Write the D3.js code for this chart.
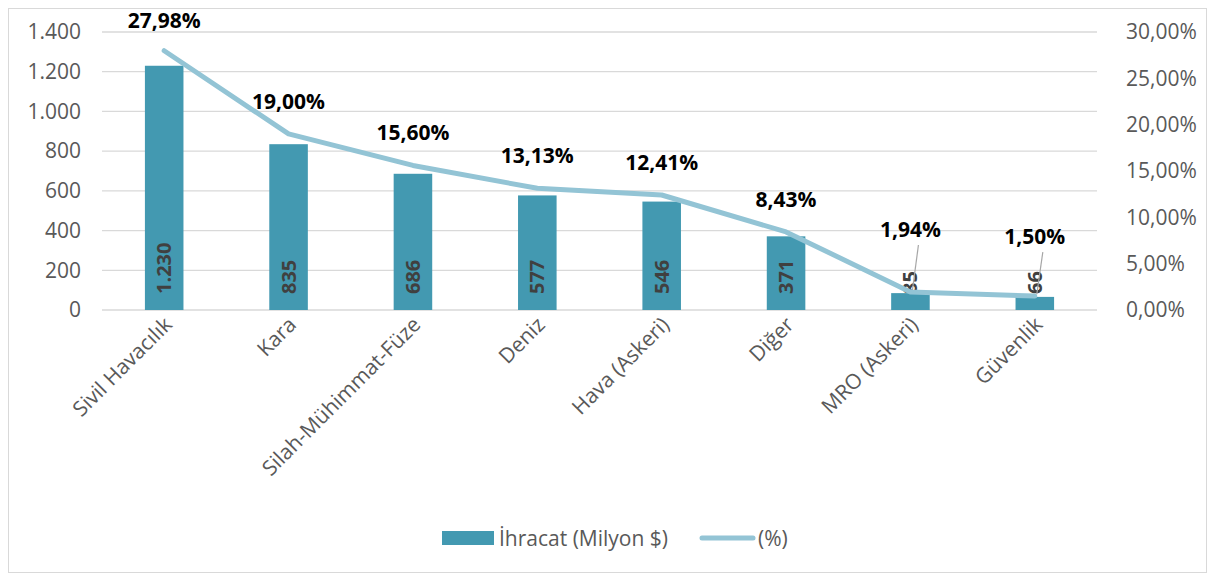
<!DOCTYPE html>
<html><head><meta charset="utf-8">
<script src="https://cdn.jsdelivr.net/npm/d3@7"></script>
<style>body{margin:0;background:#fff}svg{display:block}</style>
</head><body>
<svg id="c" width="1216" height="578"></svg>
<script>
const categories = ["Sivil Havacılık","Kara","Silah-Mühimmat-Füze","Deniz","Hava (Askeri)","Diğer","MRO (Askeri)","Güvenlik"];
const exports = [1230, 835, 686, 577, 546, 371, 85, 66];
const exportLabels = ["1.230","835","686","577","546","371","85","66"];
const shares = [27.98, 19.00, 15.60, 13.13, 12.41, 8.43, 1.94, 1.50];
const shareLabels = ["27,98%","19,00%","15,60%","13,13%","12,41%","8,43%","1,94%","1,50%"];
const leftTicks = [0,200,400,600,800,1000,1200,1400];
const leftTickLabels = ["0","200","400","600","800","1.000","1.200","1.400"];
const rightTicks = [0,5,10,15,20,25,30];
const rightTickLabels = ["0,00%","5,00%","10,00%","15,00%","20,00%","25,00%","30,00%"];
const seriesNames = ["İhracat (Milyon $)","(%)"];

const svg = d3.select("#c");
const font = "'Open Sans', sans-serif";
const barColor = "#4399b1", lineColor = "#93c4d5", textColor = "#595959";
const fs = 21;

svg.append("rect").attr("x",8.5).attr("y",8.5).attr("width",1198).attr("height",564)
  .attr("fill","#fff").attr("stroke","#d9d9d9").attr("stroke-width",1);

const x = d3.scaleBand().domain(categories).range([102,1097]).paddingInner(0.69).paddingOuter(0.345);
const y = d3.scaleLinear().domain([0,1400]).range([310,32]);
const y2 = d3.scaleLinear().domain([0,30]).range([310,32]);

// gridlines
svg.append("g").selectAll("line").data(leftTicks).join("line")
  .attr("x1",102).attr("x2",1097).attr("y1",d=>y(d)).attr("y2",d=>y(d))
  .attr("stroke","#d9d9d9").attr("stroke-width",1.3);

// left axis
const la = svg.append("g").attr("transform","translate(81,0)")
  .call(d3.axisLeft(y).tickValues(leftTicks).tickFormat((d,i)=>leftTickLabels[i]).tickSize(0).tickPadding(0));
la.select(".domain").remove();
la.selectAll("text").attr("font-family",font).attr("font-size",fs).attr("fill",textColor);

// right axis
const ra = svg.append("g").attr("transform","translate(1126,0)")
  .call(d3.axisRight(y2).tickValues(rightTicks).tickFormat((d,i)=>rightTickLabels[i]).tickSize(0).tickPadding(0));
ra.select(".domain").remove();
ra.selectAll("text").attr("font-family",font).attr("font-size",fs).attr("fill",textColor);

// bars
svg.append("g").selectAll("rect").data(exports).join("rect")
  .attr("x",(d,i)=>x(categories[i])).attr("width",x.bandwidth())
  .attr("y",d=>y(d)).attr("height",d=>y(0)-y(d)).attr("fill",barColor);

// bar labels
svg.append("g").selectAll("text").data(exportLabels).join("text")
  .attr("transform",(d,i)=>`translate(${x(categories[i])+x.bandwidth()/2+7},${y(0)-16}) rotate(-90)`)
  .attr("text-anchor","start").attr("font-family",font).attr("font-weight","bold")
  .attr("font-size",20).attr("fill","#404040").text(d=>d);

// x labels
svg.append("g").selectAll("text").data(categories).join("text")
  .attr("transform",(d,i)=>`translate(${x(d)+x.bandwidth()/2+9},${y(0)+16}) rotate(-45)`)
  .attr("text-anchor","end").attr("font-family",font).attr("font-size",fs).attr("fill",textColor).text(d=>d);

// line
const cx = i => x(categories[i])+x.bandwidth()/2;
svg.append("path").datum(shares)
  .attr("d",d3.line().x((d,i)=>cx(i)).y(d=>y2(d)))
  .attr("fill","none").attr("stroke",lineColor).attr("stroke-width",5)
  .attr("stroke-linecap","round").attr("stroke-linejoin","round");

// share labels (Excel moved some labels; leader lines for those)
const lift = [0,0,0,0,0,0,30,27];
shares.forEach((d,i)=>{
  const px = cx(i), py = y2(d);
  let by = py - 25 - lift[i];
  if (i===0) by = 28;
  if (lift[i]>0) {
    svg.append("line").attr("x1",px+8).attr("y1",by+8).attr("x2",px+2).attr("y2",py-2)
      .attr("stroke","#a6a6a6").attr("stroke-width",1.2);
  }
  svg.append("text").attr("x",px).attr("y",by).attr("text-anchor","middle")
    .attr("font-family",font).attr("font-weight","bold").attr("font-size",fs).attr("fill","#000")
    .text(shareLabels[i]);
});

// legend
const lg = svg.append("g");
lg.append("rect").attr("x",442).attr("y",531).attr("width",52).attr("height",14).attr("fill",barColor);
lg.append("text").attr("x",499).attr("y",546).attr("font-family",font).attr("font-size",fs).attr("fill",textColor).text(seriesNames[0]);
lg.append("line").attr("x1",702).attr("x2",753).attr("y1",538).attr("y2",538)
  .attr("stroke",lineColor).attr("stroke-width",5).attr("stroke-linecap","round");
lg.append("text").attr("x",758).attr("y",546).attr("font-family",font).attr("font-size",fs).attr("fill",textColor).text(seriesNames[1]);
</script>
</body></html>
